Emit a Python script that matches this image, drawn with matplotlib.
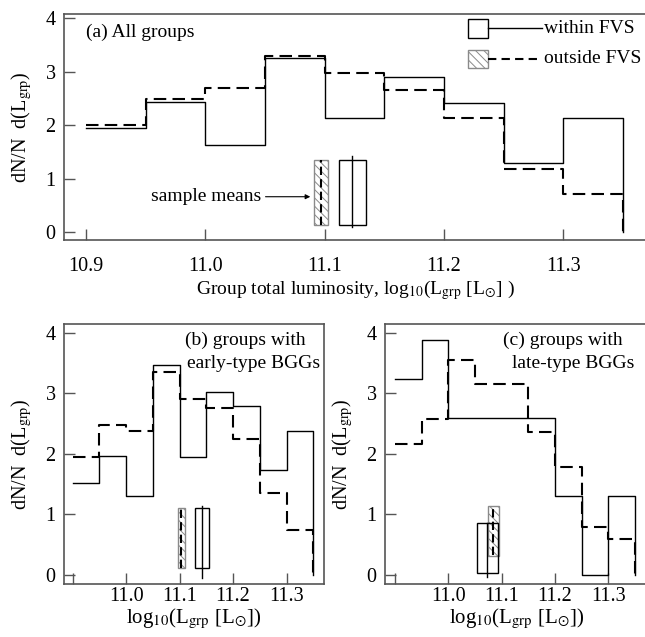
import numpy as np
import matplotlib
matplotlib.use("Agg")
import matplotlib.pyplot as plt
from matplotlib.patches import Rectangle
from matplotlib.lines import Line2D

plt.rcParams['font.family'] = ['Liberation Serif', 'DejaVu Serif']
plt.rcParams['mathtext.fontset'] = 'stix'
plt.rcParams['hatch.linewidth'] = 0.7

# ---------------- data ----------------
edges = [10.90, 10.95, 11.00, 11.05, 11.10, 11.15, 11.20, 11.25, 11.30, 11.35]

a_within  = [1.95, 2.43, 1.62, 3.25, 2.13, 2.91, 2.42, 1.30, 2.13]
a_outside = [2.00, 2.49, 2.70, 3.30, 2.98, 2.66, 2.13, 1.18, 0.71]

b_within  = [1.52, 1.96, 1.31, 3.47, 1.95, 3.03, 2.80, 1.73, 2.38]
b_outside = [1.95, 2.47, 2.38, 3.36, 2.91, 2.76, 2.25, 1.35, 0.745]

c_within  = [3.24, 3.89, 2.59, 2.59, 2.59, 2.59, 1.30, 0.00, 1.30]
c_outside = [2.17, 2.57, 3.55, 3.16, 3.16, 2.36, 1.78, 0.79, 0.59]

# sample means: box x range, box y range, mean-line x, mean-line y range
a_in_box  = dict(x=(11.1123, 11.1345), y=(0.13, 1.35), mx=11.1232, my=(0.09, 1.42))
a_out_box = dict(x=(11.0911, 11.1026), y=(0.13, 1.35), mx=11.0967, my=(0.13, 1.35))
b_in_box  = dict(x=(11.129, 11.1544), y=(0.11, 1.10), mx=11.1413, my=(-0.05, 1.14))
b_out_box = dict(x=(11.0965, 11.1103), y=(0.11, 1.10), mx=11.1028, my=(0.11, 1.10))
c_in_box  = dict(x=(11.0533, 11.0938), y=(0.02, 0.86), mx=11.072, my=(-0.04, 0.86))
c_out_box = dict(x=(11.074, 11.0957), y=(0.31, 1.14), mx=11.0844, my=(0.33, 1.10))

xtick_vals = [10.9, 11.0, 11.1, 11.2, 11.3]
ytick_vals = [0, 1, 2, 3, 4]

SPINE = '#555555'
HATCHC = '#8a8a8a'
DASH = (0, (6, 3))
TICKFS = 14.5
TXTFS = 14

W, H = 645, 637
fig = plt.figure(figsize=(W / 100, H / 100), dpi=100)


def px_axes(l, t, r, b):
    return fig.add_axes([l / W, 1 - b / H, (r - l) / W, (b - t) / H])


def step_line(ax, vals, **kw):
    e = np.asarray(edges)
    v = np.asarray(vals)
    xs = np.repeat(e, 2)[1:-1]
    ys = np.repeat(v, 2)
    xs = np.append(xs, e[-1])
    ys = np.append(ys, 0.0)
    ax.plot(xs, ys, **kw)


def means(ax, inb, outb):
    ax.add_patch(Rectangle((outb['x'][0], outb['y'][0]), outb['x'][1] - outb['x'][0],
                           outb['y'][1] - outb['y'][0], fill=False, hatch='\\\\\\\\',
                           edgecolor=HATCHC, lw=1.0, zorder=3))
    ax.add_patch(Rectangle((inb['x'][0], inb['y'][0]), inb['x'][1] - inb['x'][0],
                           inb['y'][1] - inb['y'][0], fill=False,
                           edgecolor='k', lw=1.0, zorder=4))
    ax.plot([outb['mx'], outb['mx']], outb['my'], color='k', lw=1.5, ls=(0, (4, 2)), zorder=5)
    ax.plot([inb['mx'], inb['mx']], inb['my'], color='k', lw=1.0, zorder=5)


def style(ax, xlim, ylim, labels_first=True, xpad=10):
    ax.set_xlim(*xlim)
    ax.set_ylim(*ylim)
    ax.set_xticks(xtick_vals)
    if labels_first:
        ax.set_xticklabels(['%.1f' % v for v in xtick_vals])
    else:
        ax.set_xticklabels([''] + ['%.1f' % v for v in xtick_vals[1:]])
    ax.set_yticks(ytick_vals)
    ax.set_yticklabels([str(v) for v in ytick_vals])
    ax.tick_params(axis='both', direction='in', length=8, width=1.0, color=SPINE,
                   labelsize=TICKFS, top=False, right=False)
    ax.tick_params(axis='x', pad=xpad)
    ax.tick_params(axis='y', pad=6)
    for s in ax.spines.values():
        s.set_color(SPINE)
        s.set_linewidth(1.2)
    ax.set_ylabel(r'dN/N  d(L$_{\mathrm{grp}}$)', fontsize=TXTFS + 0.5, labelpad=8)


# ---------------- panel (a) ----------------
axa = px_axes(64, 14, 648, 240)
step_line(axa, a_within, color='k', lw=1.0)
step_line(axa, a_outside, color='k', lw=1.5, ls=DASH)
means(axa, a_in_box, a_out_box)
style(axa, (10.8816, 11.371), (-0.15, 4.08), True, xpad=12)
axa.set_xlabel(r'Group total luminosity, log$_{10}$(L$_{\mathrm{grp}}$ [L$_{\odot}$] )',
               fontsize=TXTFS, labelpad=2)
axa.text(0.038, 0.92, '(a) All groups', transform=axa.transAxes, fontsize=TXTFS,
         ha='left', va='center')
axa.annotate('sample means', xy=(11.088, 0.66), xytext=(11.047, 0.66),
             ha='right', va='center', fontsize=TXTFS,
             arrowprops=dict(arrowstyle='-|>', color='k', lw=0.8, mutation_scale=7,
                             shrinkA=1, shrinkB=0))

# legend (drawn in axes fraction)
T = axa.transAxes
axa.add_patch(Rectangle((0.692, 0.895), 0.034, 0.082, transform=T, fill=False,
                        edgecolor='k', lw=1.0, clip_on=False))
axa.add_line(Line2D([0.726, 0.818], [0.936, 0.936], transform=T, color='k', lw=1.0))
axa.text(0.822, 0.936, 'within FVS', transform=T, fontsize=TXTFS, ha='left', va='center')
axa.add_patch(Rectangle((0.692, 0.763), 0.034, 0.078, transform=T, fill=False,
                        hatch='\\\\\\\\', edgecolor=HATCHC, lw=1.0, clip_on=False))
axa.add_line(Line2D([0.726, 0.818], [0.802, 0.802], transform=T, color='k', lw=1.5,
                    ls=(0, (4, 2.5))))
axa.text(0.822, 0.802, 'outside FVS', transform=T, fontsize=TXTFS, ha='left', va='center')

# ---------------- panel (b) ----------------
axb = px_axes(64, 324, 324, 584)
step_line(axb, b_within, color='k', lw=1.0)
step_line(axb, b_outside, color='k', lw=1.5, ls=DASH)
means(axb, b_in_box, b_out_box)
style(axb, (10.884, 11.370), (-0.154, 4.15), False, xpad=2)
axb.set_xlabel(r'log$_{10}$(L$_{\mathrm{grp}}$ [L$_{\odot}$])', fontsize=TXTFS + 1, labelpad=1)
Tb = axb.transAxes
axb.text((185 - 64) / 260, 1 - (340 - 324) / 260, '(b) groups with', transform=Tb,
         fontsize=TXTFS, ha='left', va='center')
axb.text((187 - 64) / 260, 1 - (363 - 324) / 260, 'early-type BGGs', transform=Tb,
         fontsize=TXTFS, ha='left', va='center')

# ---------------- panel (c) ----------------
axc = px_axes(385, 324, 648, 584)
step_line(axc, c_within, color='k', lw=1.0)
step_line(axc, c_outside, color='k', lw=1.5, ls=DASH)
means(axc, c_in_box, c_out_box)
style(axc, (10.881, 11.3745), (-0.154, 4.15), False, xpad=2)
axc.set_xlabel(r'log$_{10}$(L$_{\mathrm{grp}}$ [L$_{\odot}$])', fontsize=TXTFS + 1, labelpad=1)
Tc = axc.transAxes
axc.text((503 - 385) / 263, 1 - (340 - 324) / 260, '(c) groups with', transform=Tc,
         fontsize=TXTFS, ha='left', va='center')
axc.text((512 - 385) / 263, 1 - (363 - 324) / 260, 'late-type BGGs', transform=Tc,
         fontsize=TXTFS, ha='left', va='center')

fig.savefig('out.png', dpi=100)
